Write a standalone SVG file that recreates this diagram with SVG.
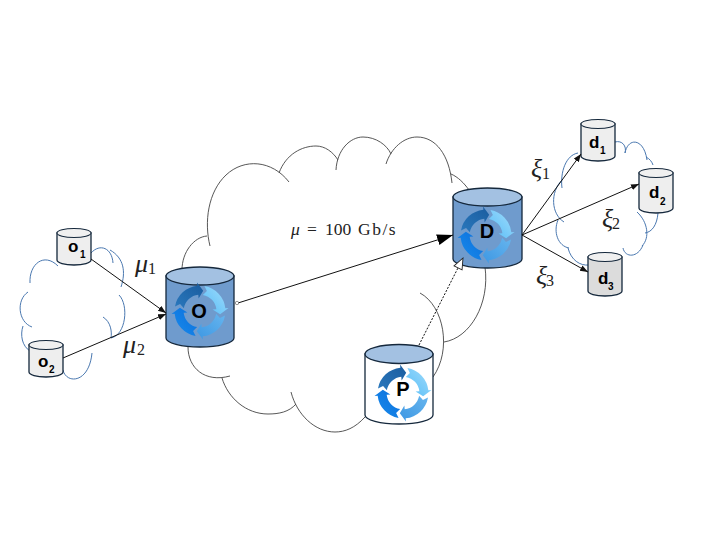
<svg xmlns="http://www.w3.org/2000/svg" xmlns:xlink="http://www.w3.org/1999/xlink" width="711" height="559" viewBox="0 0 711 559">
  <style>
    .bigcloud { fill: none; stroke: #444; stroke-width: 0.9; }
    .bluecloud { fill: none; stroke: #4a78b0; stroke-width: 1; }
    .wall { stroke: #15283c; stroke-width: 1.3; }
    .big { fill: #6f9bcd; }
    .white { fill: #fff; }
    .small { fill: #eeeeee; }
    .smalldark { fill: #dcdcdc; }
    .lid { fill: #a3c1e2; stroke: #15283c; stroke-width: 1.3; }
    .smalllid { fill: #f0f0f0; stroke: #15283c; stroke-width: 1.1; }
    .wire { fill: none; stroke: #111; stroke-width: 1; }
    .name { font-family: "Liberation Sans", Arial, sans-serif; font-weight: 700; fill: #000; }
    .tag { font-size: 17px; }
    .sub { font-size: 10px; }
    .hub { font-size: 20px; text-anchor: middle; }
    .math { font-family: "Liberation Serif", "Times New Roman", serif; fill: #222; }
    .sym { font-size: 26px; font-style: italic; }
    .idx { font-size: 16px; }
  </style>
  <defs>
    <marker id="tip" markerWidth="9" markerHeight="7" refX="8" refY="3" orient="auto" markerUnits="userSpaceOnUse">
      <path d="M0,0 L8,3 L0,6 Z" fill="#111"/>
    </marker>
    <marker id="tipLarge" markerWidth="17" markerHeight="13" refX="16" refY="5.5" orient="auto" markerUnits="userSpaceOnUse">
      <path d="M0,0 L16,5.5 L0,11 Z" fill="#000"/>
    </marker>
    <marker id="tipOpen" markerWidth="14" markerHeight="13" refX="12" refY="5.500" orient="auto" markerUnits="userSpaceOnUse">
      <path d="M1,1 L12,5.500 L1,10 Z" fill="#fff" stroke="#222" stroke-width="0.9"/>
    </marker>
    <linearGradient id="gDark" x1="0" y1="1" x2="1" y2="0"><stop offset="0" stop-color="#2a78bd"/><stop offset="1" stop-color="#1a5c9e"/></linearGradient>
    <linearGradient id="gPale" x1="0" y1="0" x2="1" y2="1"><stop offset="0" stop-color="#a3dcfb"/><stop offset="1" stop-color="#55bdf7"/></linearGradient>
    <linearGradient id="gMid" x1="1" y1="0" x2="0" y2="1"><stop offset="0" stop-color="#3d97e3"/><stop offset="1" stop-color="#66b5ee"/></linearGradient>
    <linearGradient id="gVivid" x1="0" y1="0" x2="1" y2="1"><stop offset="0" stop-color="#1a8cec"/><stop offset="1" stop-color="#0a6fdc"/></linearGradient>
    <!-- circular arrow segment with a notched tail, clockwise, ending near twelve o'clock -->
    <path id="seg" d="M-15.2,-2.7 A15.500,15.500 0 0 1 -1.6,-15.4 L-1.3,-11.900 L3,-19 L-2.8,-26.900 L-2.500,-23.900 A24,24 0 0 0 -23.600,-4.200 L-18.800,-6.500 Z"/>
    <g id="cycle">
      <use xlink:href="#seg" href="#seg" fill="url(#gDark)"/>
      <use xlink:href="#seg" href="#seg" fill="url(#gPale)" transform="rotate(90)"/>
      <use xlink:href="#seg" href="#seg" fill="url(#gMid)" transform="rotate(180)"/>
      <use xlink:href="#seg" href="#seg" fill="url(#gVivid)" transform="rotate(270)"/>
    </g>
  </defs>

  <!-- backbone network cloud -->
  <g id="backbone-cloud" class="bigcloud">
    <path d="M210,246 C204,222 208,192 226,175 C244,158 272,160 289,182"/>
    <path d="M279,173 C286,154 302,146 316,146 C325,146 333,152 338,160"/>
    <path d="M336,170 C337,150 350,137 363,137 C376,137 387,145 391,154"/>
    <path d="M386,164 C391,148 404,137 417,137 C436,137 449,155 452,183"/>
    <path d="M451,174 C458,177 464,183 469,190"/>
    <path d="M485,267 C490,304 470,338 444,342"/>
    <path d="M420,293 C444,306 452,350 433,377"/>
    <path d="M365,417 C355,428 345,432 335,432 C315,432 297,415 291,392"/>
    <path d="M296,404 C289,412 279,414 268,414 C246,414 228,398 222,378"/>
    <path d="M230,376 C205,383 188,368 188,347"/>
    <path d="M182,270 C182,252 194,237 207,236"/>
  </g>

  <!-- origin access cloud -->
  <g id="origin-cloud" class="bluecloud">
    <path d="M30,283 C29,264 44,252 58,266"/>
    <path d="M28,292 C16,300 18,322 32,327"/>
    <path d="M23,326 C20,335 22,346 30,351"/>
    <path d="M63,370 C66,384 89,384 92,353"/>
    <path d="M103,317 C111,322 112,332 111,338"/>
    <path d="M111,338 C126,335 129,305 119,295"/>
    <path d="M91,253 C100,243 112,248 113,263"/>
    <path d="M110,250 C124,258 126,272 121,287"/>
  </g>

  <!-- destination access cloud -->
  <g id="destination-cloud" class="bluecloud">
    <path d="M615,142 C622,140 627,146 625,153"/>
    <path d="M625,153 C628,137 644,138 647,160"/>
    <path d="M646,157 C650,159 652,162 653,165"/>
    <path d="M658,213 C657,225 652,232 645,233"/>
    <path d="M637,212 C648,222 650,238 642,246"/>
    <path d="M623,248 C625,258 638,258 643,245"/>
    <path d="M578,153 C566,155 560,172 562,188"/>
    <path d="M562,180 C550,192 551,214 564,222"/>
    <path d="M558,220 C553,232 558,246 569,248"/>
    <path d="M568,248 C571,260 580,266 589,265"/>
  </g>

  <g id="node-O">
    <path class="wall big" d="M166,276 V338 A34,9 0 0 0 234,338 V276 Z"/>
    <ellipse class="lid" cx="200" cy="276" rx="34" ry="9"/>
    <use xlink:href="#cycle" href="#cycle" transform="translate(200,311) scale(1.06)"/>
    <text class="name hub" x="199" y="318">O</text>
  </g>
  <g id="node-D">
    <path class="wall big" d="M453,197 V259 A34.500,9 0 0 0 522,259 V197 Z"/>
    <ellipse class="lid" cx="487.500" cy="197" rx="34.500" ry="9"/>
    <use xlink:href="#cycle" href="#cycle" transform="translate(486,235) scale(1.06)"/>
    <text class="name hub" x="487" y="238">D</text>
  </g>
  <g id="node-P">
    <path class="wall white" d="M365,354 V415 A34,9 0 0 0 433,415 V354 Z"/>
    <ellipse class="lid" cx="399" cy="354" rx="34" ry="9.500"/>
    <use xlink:href="#cycle" href="#cycle" transform="translate(403,393) scale(1.06)"/>
    <text class="name hub" x="403" y="396">P</text>
  </g>

  <g id="node-o1">
    <path class="wall small" d="M57,233 V260 A17,5 0 0 0 91,260 V233 Z"/>
    <ellipse class="smalllid" cx="74" cy="233" rx="17" ry="4.500"/>
    <text class="name tag" x="68" y="252">o</text>
    <text class="name sub" x="80" y="258">1</text>
  </g>
  <g id="node-o2">
    <path class="wall small" d="M29,345 V372 A17,5 0 0 0 63,372 V345 Z"/>
    <ellipse class="smalllid" cx="46" cy="345" rx="17" ry="4.500"/>
    <text class="name tag" x="38" y="367">o</text>
    <text class="name sub" x="49" y="373">2</text>
  </g>
  <g id="node-d1">
    <path class="wall small" d="M581,124 V156 A17,5 0 0 0 615,156 V124 Z"/>
    <ellipse class="smalllid" cx="598" cy="124" rx="17" ry="4.500"/>
    <text class="name tag" x="589" y="148">d</text>
    <text class="name sub" x="600" y="154">1</text>
  </g>
  <g id="node-d2">
    <path class="wall small" d="M639,173 V208 A17,5 0 0 0 673,208 V173 Z"/>
    <ellipse class="smalllid" cx="656" cy="173" rx="17" ry="4.500"/>
    <text class="name tag" x="649" y="198">d</text>
    <text class="name sub" x="660" y="205">2</text>
  </g>
  <g id="node-d3">
    <path class="wall smalldark" d="M588,257 V291 A17,5 0 0 0 622,291 V257 Z"/>
    <ellipse class="smalllid" cx="605" cy="257" rx="17" ry="4.500"/>
    <text class="name tag" x="598" y="284">d</text>
    <text class="name sub" x="608" y="290">3</text>
  </g>

  <g id="connectors">
    <line class="wire" x1="91" y1="259" x2="166" y2="313" marker-end="url(#tip)"/>
    <line class="wire" x1="63" y1="358" x2="166" y2="314" marker-end="url(#tip)"/>
    <line class="wire" x1="238" y1="303" x2="453" y2="235" marker-end="url(#tipLarge)"/>
    <circle cx="237" cy="303" r="1.7" fill="#fff" stroke="#555" stroke-width="0.6"/>
    <line class="wire" x1="419" y1="345" x2="463" y2="258" stroke-dasharray="2 1.5" marker-end="url(#tipOpen)"/>
    <line class="wire" x1="522" y1="235" x2="581" y2="154" marker-end="url(#tip)"/>
    <line class="wire" x1="522" y1="235" x2="639" y2="184" marker-end="url(#tip)"/>
    <line class="wire" x1="522" y1="235" x2="588" y2="272" marker-end="url(#tip)"/>
  </g>

  <g id="labels">
    <text class="math" y="235" font-size="17.500"><tspan x="291" font-style="italic">μ</tspan><tspan x="307">=</tspan><tspan x="325">100</tspan><tspan x="358" letter-spacing="1.500">Gb/s</tspan></text>
    <text class="math" y="272"><tspan class="sym" x="135">μ</tspan><tspan class="idx" x="148" dy="2">1</tspan></text>
    <text class="math" y="353"><tspan class="sym" x="123">μ</tspan><tspan class="idx" x="137" dy="2">2</tspan></text>
    <text class="math" y="177"><tspan class="sym" x="531">ξ</tspan><tspan class="idx" x="542" dy="2">1</tspan></text>
    <text class="math" y="227"><tspan class="sym" x="602">ξ</tspan><tspan class="idx" x="612" dy="2">2</tspan></text>
    <text class="math" y="284"><tspan class="sym" x="536">ξ</tspan><tspan class="idx" x="546" dy="2">3</tspan></text>
  </g>
</svg>
